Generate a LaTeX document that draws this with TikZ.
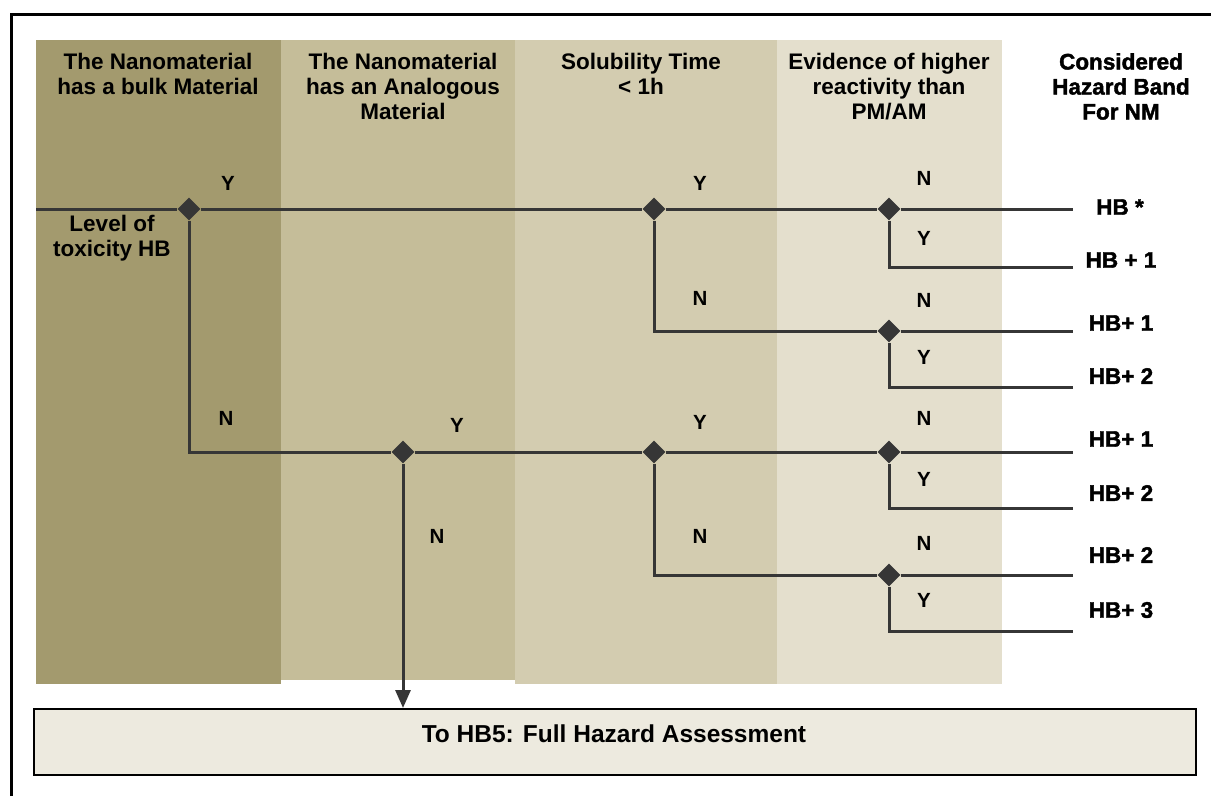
\documentclass[tikz,border=0pt]{standalone}
\usepackage{fontspec}
\setmainfont{Liberation Sans}
\newfontfamily\heavyfont[FakeBold=1.8]{Liberation Sans Bold}
\usetikzlibrary{shapes.geometric,arrows.meta}
\definecolor{bandA}{HTML}{A39A6E}
\definecolor{bandB}{HTML}{C5BD99}
\definecolor{bandC}{HTML}{D3CCB0}
\definecolor{bandD}{HTML}{E4DFCD}
\definecolor{boxfill}{HTML}{EDEADF}
\definecolor{wire}{HTML}{363636}
\begin{document}
\begin{tikzpicture}[x=1pt,y=-1pt,
  head/.style={anchor=north,align=center,inner sep=0pt,
    font=\bfseries\fontsize{22.5}{25}\selectfont},
  band/.style={anchor=center,inner sep=0pt,
    font=\heavyfont\fontsize{22.5}{25}\selectfont},
  yn/.style={inner sep=0pt,font=\bfseries\fontsize{20.5}{24}\selectfont},
  junction/.style={diamond,fill=wire,draw=none,inner sep=0pt,
    minimum width=23pt,minimum height=23pt},
  wireline/.style={draw=wire,line width=3pt},
  resultbox/.style={draw=black,line width=2pt,fill=boxfill,inner sep=0pt,
    minimum width=1162pt,minimum height=66pt}]
\useasboundingbox (0,0) rectangle (1211,796);

% outer frame
\draw[line width=3pt] (11,796) -- (11,14) -- (1211,14);

% decision columns
\fill[bandA] (36,40) rectangle (281,684);
\fill[bandB] (281,40) rectangle (515,680);
\fill[bandC] (515,40) rectangle (777,684);
\fill[bandD] (777,40) rectangle (1002,684);

% column headings
\node[head] (h1) at (158,53) {The Nanomaterial\\has a bulk Material};
\node[head] (h2) at (403,53) {The Nanomaterial\\has an Analogous\\Material};
\node[head] (h3) at (641,53) {Solubility Time\\< 1h};
\node[head] (h4) at (889,53) {Evidence of higher\\reactivity than\\PM/AM};
\node[head,font=\heavyfont\fontsize{22.5}{25}\selectfont] (h5) at (1121,53) {Considered\\Hazard Band\\For NM};

% final box
\node[resultbox] (full) at (615,742) {};
\node[inner sep=0pt,font=\bfseries\fontsize{24.5}{28}\selectfont] (fulltext) at (614,734) {To HB5: Full Hazard Assessment};

% junctions
\node[junction] (jA1) at (189,209) {};
\node[junction] (jA2) at (654,209) {};
\node[junction] (jA3) at (889,209) {};
\node[junction] (jB1) at (889,331) {};
\node[junction] (jC1) at (403,452) {};
\node[junction] (jC2) at (654,452) {};
\node[junction] (jC3) at (889,452) {};
\node[junction] (jD1) at (889,575) {};

% branch ends
\coordinate (start) at (36,209);
\coordinate (e1) at (1073,209);
\coordinate (e2) at (1073,267);
\coordinate (e3) at (1073,331);
\coordinate (e4) at (1073,387);
\coordinate (e5) at (1073,452);
\coordinate (e6) at (1073,508);
\coordinate (e7) at (1073,575);
\coordinate (e8) at (1073,631);

% connectors
\draw[wireline] (start) -- (jA1) -- (jA2) -- (jA3) -- (e1);
\draw[wireline] (jA3) |- (e2);
\draw[wireline] (jA2) |- (jB1) -- (e3);
\draw[wireline] (jB1) |- (e4);
\draw[wireline] (jA1) |- (jC1) -- (jC2) -- (jC3) -- (e5);
\draw[wireline] (jC3) |- (e6);
\draw[wireline] (jC2) |- (jD1) -- (e7);
\draw[wireline] (jD1) |- (e8);
\draw[wireline,-{Triangle[width=15pt,length=18pt]}] (jC1) -- (jC1 |- full.north);

% starting level
\node[head] (lvl) at (112,215) {Level of\\toxicity HB};

% branch answers
\node[yn] (a1) at (228,183) {Y};
\node[yn] (a2) at (700,183) {Y};
\node[yn] (a3) at (924,178) {N};
\node[yn] (a4) at (924,238) {Y};
\node[yn] (a5) at (700,298) {N};
\node[yn] (a6) at (924,300) {N};
\node[yn] (a7) at (924,357) {Y};
\node[yn] (a8) at (226,418) {N};
\node[yn] (a9) at (457,425) {Y};
\node[yn] (a10) at (700,422) {Y};
\node[yn] (a11) at (924,418) {N};
\node[yn] (a12) at (924,479) {Y};
\node[yn] (a13) at (437,536) {N};
\node[yn] (a14) at (700,536) {N};
\node[yn] (a15) at (924,543) {N};
\node[yn] (a16) at (924,600) {Y};

% resulting hazard bands
\node[band] (b1) at (1120,207) {HB *};
\node[band] (b2) at (1121,260) {HB + 1};
\node[band] (b3) at (1121,323) {HB+ 1};
\node[band] (b4) at (1121,376) {HB+ 2};
\node[band] (b5) at (1121,439) {HB+ 1};
\node[band] (b6) at (1121,493) {HB+ 2};
\node[band] (b7) at (1121,555) {HB+ 2};
\node[band] (b8) at (1121,610) {HB+ 3};
\end{tikzpicture}
\end{document}
